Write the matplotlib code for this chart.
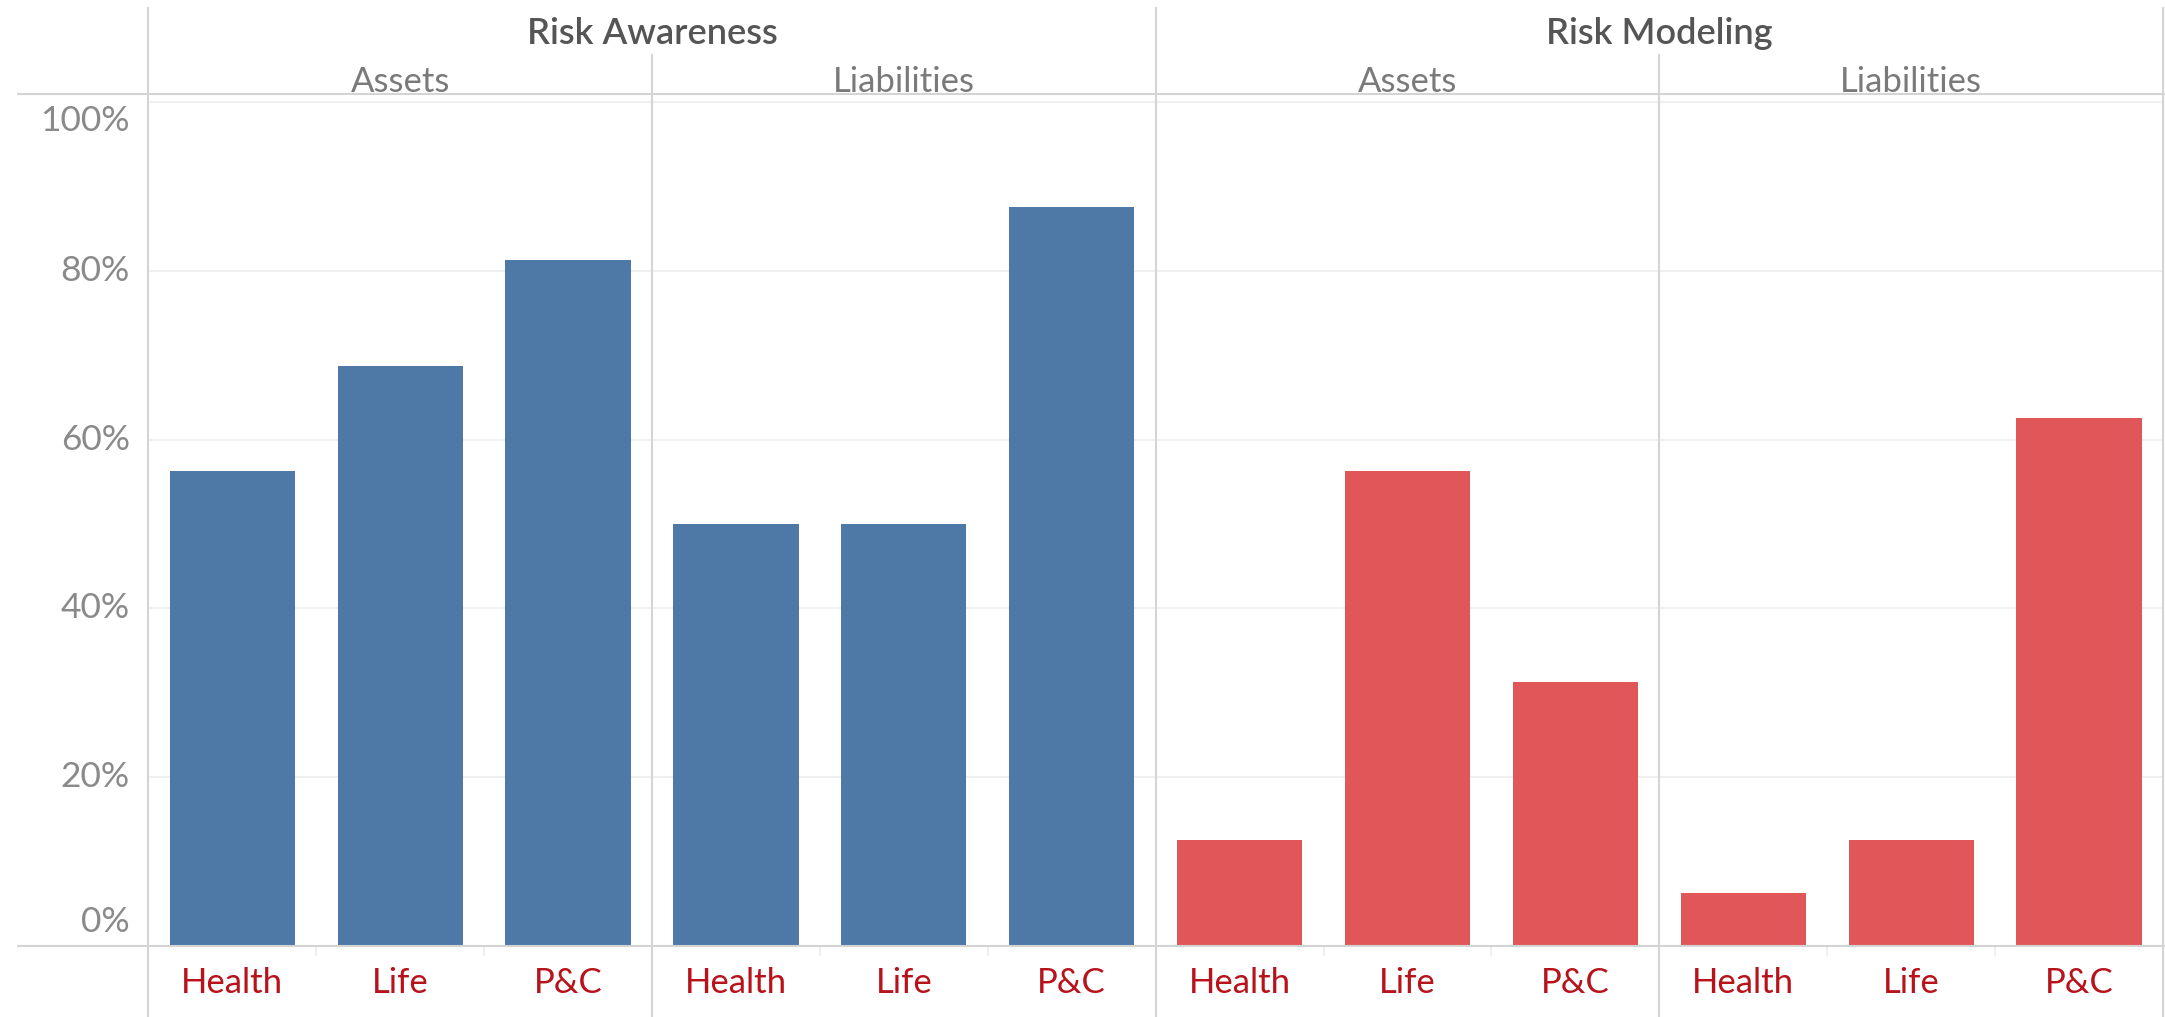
import matplotlib
matplotlib.use('Agg')
import matplotlib.pyplot as plt
import matplotlib.transforms as mtransforms
from matplotlib.lines import Line2D

# chart data (share of respondents)
measures = ['Risk Awareness', 'Risk Modeling']
sides = ['Assets', 'Liabilities']
lines_of_business = ['Health', 'Life', 'P&C']

risk_awareness_assets = [0.5625, 0.6875, 0.8125]
risk_awareness_liabilities = [0.50, 0.50, 0.875]
risk_modeling_assets = [0.125, 0.5625, 0.3125]
risk_modeling_liabilities = [0.0625, 0.125, 0.625]

measure_colors = ['#4e79a7', '#e15759']

y_ticks = [0, 0.2, 0.4, 0.6, 0.8, 1.0]
y_tick_labels = ['0%', '20%', '40%', '60%', '80%', '100%']

plt.rcParams['font.family'] = ['Lato', 'DejaVu Sans']

W, H = 2165, 1017
fig = plt.figure(figsize=(W / 100, H / 100), dpi=100)

# pixel layout of the pane area
left_px, right_px = 148.3, 2163
base_px, top_px = 946, 94
ax = fig.add_axes([left_px / W, (H - base_px) / H,
                   (right_px - left_px) / W, (base_px - top_px) / H])

ymax = 1.0093
ax.set_ylim(0, ymax)
ax.set_xlim(-0.5, 11.5)
for s in ax.spines.values():
    s.set_visible(False)
ax.set_xticks([])
ax.set_yticks([])

# light gridlines
for t in y_ticks[1:]:
    ax.axhline(t, color='#f0f0f0', lw=1.5, zorder=0)

groups = [risk_awareness_assets, risk_awareness_liabilities,
          risk_modeling_assets, risk_modeling_liabilities]
pos = 0
for g, vals in enumerate(groups):
    color = measure_colors[g // 2]
    xs = [pos + i for i in range(len(vals))]
    ax.bar(xs, vals, width=0.746, color=color, zorder=2)
    for x, lab in zip(xs, lines_of_business):
        ax.text(x, -0.043, lab, transform=ax.get_xaxis_transform(),
                ha='center', va='center', fontsize=25, color='#b8121b')
    pos += len(vals)

ah = base_px - top_px  # axes height in px
def ay(px):
    return (base_px - px) / ah

div_col = '#d4d4d4'
# outer and measure dividers (full height)
for x in [-0.5, 5.5, 11.5]:
    ax.axvline(x, ymin=ay(H), ymax=ay(8), color=div_col, lw=1.5,
               clip_on=False, zorder=3)
# side dividers
for x in [2.5, 8.5]:
    ax.axvline(x, ymin=ay(H), ymax=ay(55), color=div_col, lw=1.5,
               clip_on=False, zorder=3)

# small slot separators under the baseline
for x in [0.5, 1.5, 3.5, 4.5, 6.5, 7.5, 9.5, 10.5]:
    ax.axvline(x, ymin=ay(955), ymax=ay(946), color='#ececec', lw=1.2,
               clip_on=False)

# horizontal rules
for ypx in [top_px, base_px]:
    fig.add_artist(Line2D([18 / W, 1], [(H - ypx) / H] * 2,
                          transform=fig.transFigure, color=div_col, lw=1.5))

# headers
for m, name in enumerate(measures):
    ax.text(m * 6 + 2.5, ay(34), name, transform=ax.get_xaxis_transform(),
            ha='center', va='center', fontsize=26, color='#555555',
            fontweight='semibold')
    for s, side in enumerate(sides):
        ax.text(m * 6 + s * 3 + 1, ay(82), side,
                transform=ax.get_xaxis_transform(),
                ha='center', va='center', fontsize=25, color='#7a7a7a')

# y axis labels, end labels pulled inside the pane
ytrans = ax.get_yaxis_transform()
x_lab = (130 - left_px) / (right_px - left_px)
for i, (t, lab) in enumerate(zip(y_ticks, y_tick_labels)):
    dy = 0
    if i == 0:
        dy = 24 / 100
    elif i == len(y_ticks) - 1:
        dy = -19.5 / 100
    tr = ytrans + mtransforms.ScaledTranslation(0, dy, fig.dpi_scale_trans)
    ax.text(x_lab, t, lab, transform=tr, ha='right', va='center',
            fontsize=25.5, color='#8a8a8a')

fig.savefig('out.png', dpi=100)
